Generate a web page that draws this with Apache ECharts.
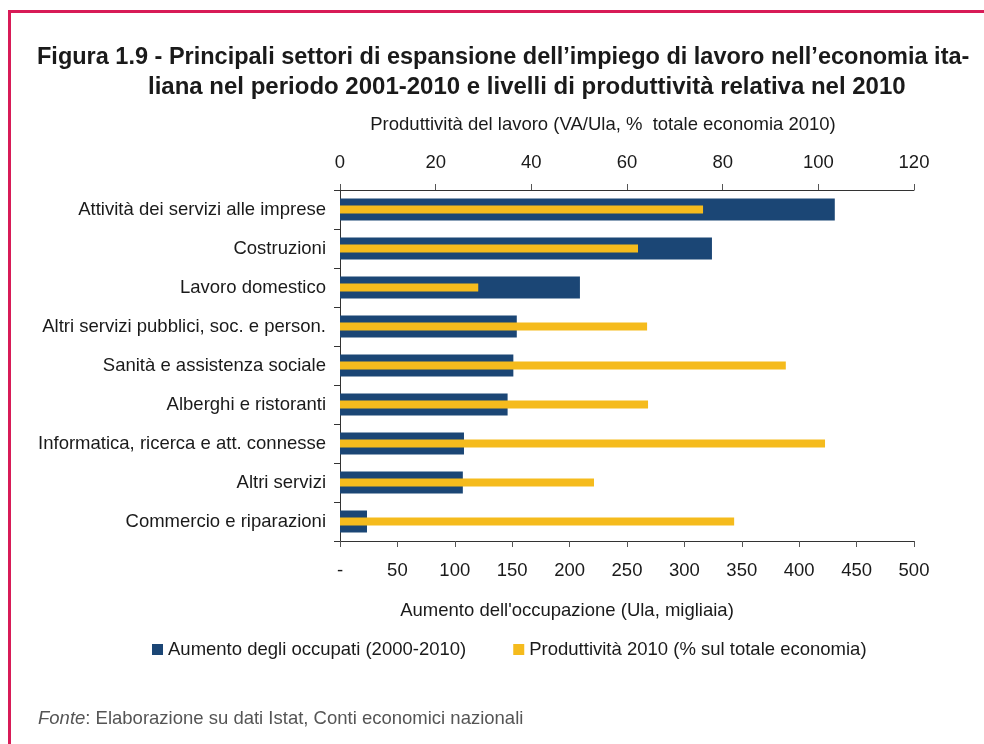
<!DOCTYPE html>
<html>
<head>
<meta charset="utf-8">
<script src="https://cdn.jsdelivr.net/npm/echarts@6/dist/echarts.min.js"></script>
<style>
html,body{margin:0;padding:0;background:#fff;}
#c{width:984px;height:744px;}
</style>
</head>
<body>
<div id="c"></div>
<script>
var categories = [
  "Attività dei servizi alle imprese",
  "Costruzioni",
  "Lavoro domestico",
  "Altri servizi pubblici, soc. e person.",
  "Sanità e assistenza sociale",
  "Alberghi e ristoranti",
  "Informatica, ricerca e att. connesse",
  "Altri servizi",
  "Commercio e riparazioni"
];
var aumentoOccupati = [431, 324, 209, 154, 151, 146, 108, 107, 23.5];
var produttivita2010 = [75.9, 62.3, 28.9, 64.2, 93.2, 64.4, 101.4, 53.1, 82.4];
var bottomTicks = { min: 0, max: 500, interval: 50 };
var topTicks = { min: 0, max: 120, interval: 20 };

var FONT = '"Liberation Sans", Arial, Helvetica, sans-serif';
var FS = 18.5;
var TXT = '#1a1a1a';
var chart = echarts.init(document.getElementById('c'), null, { renderer: 'canvas' });

var option = {
  backgroundColor: '#fff',
  animation: false,
  textStyle: { fontFamily: FONT },
  title: [
    {
      text: "Figura 1.9 - Principali settori di espansione dell\u2019impiego di lavoro nell\u2019economia ita-",
      left: 37, top: 46, padding: 0,
      textStyle: { fontFamily: FONT, fontSize: 23.5, fontWeight: 'bold', color: TXT }
    },
    {
      text: "liana nel periodo 2001-2010 e livelli di produttività relativa nel 2010",
      left: 148, top: 75, padding: 0,
      textStyle: { fontFamily: FONT, fontSize: 24, fontWeight: 'bold', color: TXT }
    },
    {
      text: "{i|Fonte}{n|: Elaborazione su dati Istat, Conti economici nazionali}",
      left: 38, top: 709, padding: 0,
      textStyle: {
        fontWeight: 'normal',
        rich: {
          i: { fontFamily: FONT, fontSize: 18.5, fontStyle: 'italic', fontWeight: 'normal', color: '#555' },
          n: { fontFamily: FONT, fontSize: 18.5, fontWeight: 'normal', color: '#555' }
        }
      }
    }
  ],
  legend: {
    left: 152, top: 640, padding: 0,
    itemWidth: 11, itemHeight: 11, itemGap: 47,
    icon: 'rect',
    textStyle: { fontFamily: FONT, fontSize: FS, color: TXT },
    data: ['Aumento degli occupati (2000-2010)', 'Produttività 2010 (% sul totale economia)']
  },
  grid: { left: 340, right: 70, top: 190, bottom: 203, containLabel: false },
  xAxis: [
    {
      type: 'value', position: 'bottom',
      min: bottomTicks.min, max: bottomTicks.max, interval: bottomTicks.interval,
      name: "Aumento dell'occupazione (Ula, migliaia)",
      nameLocation: 'middle', nameGap: 60,
      nameTextStyle: { fontFamily: FONT, fontSize: FS, color: TXT, padding: [0, 120, 0, 0] },
      axisLine: { show: true, lineStyle: { color: '#333', width: 1 } },
      axisTick: { show: true, length: 6, lineStyle: { color: '#555' } },
      axisLabel: {
        margin: 20, fontFamily: FONT, fontSize: FS, color: TXT,
        formatter: function (v) { return v === 0 ? '-' : String(v); }
      },
      splitLine: { show: false }
    },
    {
      type: 'value', position: 'top',
      min: topTicks.min, max: topTicks.max, interval: topTicks.interval,
      name: "Produttività del lavoro (VA/Ula, %  totale economia 2010)",
      nameLocation: 'middle', nameGap: 56,
      nameTextStyle: { fontFamily: FONT, fontSize: FS, color: TXT, padding: [0, 48, 0, 0] },
      axisLine: { show: true, lineStyle: { color: '#333', width: 1 } },
      axisTick: { show: true, length: 6, lineStyle: { color: '#555' } },
      axisLabel: { margin: 18, fontFamily: FONT, fontSize: FS, color: TXT },
      splitLine: { show: false }
    }
  ],
  yAxis: [
    {
      type: 'category', inverse: true, data: categories,
      axisLine: { show: true, lineStyle: { color: '#333', width: 1 } },
      axisTick: { show: true, length: 6, lineStyle: { color: '#333' } },
      axisLabel: { margin: 14, fontFamily: FONT, fontSize: FS, color: TXT }
    },
    {
      type: 'category', inverse: true, data: categories, show: false
    }
  ],
  series: [
    {
      name: 'Aumento degli occupati (2000-2010)',
      type: 'bar', xAxisIndex: 0, yAxisIndex: 0,
      barWidth: 22,
      itemStyle: { color: '#1b4675' },
      data: aumentoOccupati
    },
    {
      name: 'Produttività 2010 (% sul totale economia)',
      type: 'bar', xAxisIndex: 1, yAxisIndex: 1,
      barWidth: 8,
      itemStyle: { color: '#f5bb1d' },
      data: produttivita2010,
      z: 3
    }
  ],
  graphic: [
    { type: 'rect', shape: { x: 8, y: 10, width: 976, height: 3 }, style: { fill: '#d81b57' }, silent: true },
    { type: 'rect', shape: { x: 8, y: 10, width: 3, height: 734 }, style: { fill: '#d81b57' }, silent: true }
  ]
};
chart.setOption(option);
</script>
</body>
</html>
